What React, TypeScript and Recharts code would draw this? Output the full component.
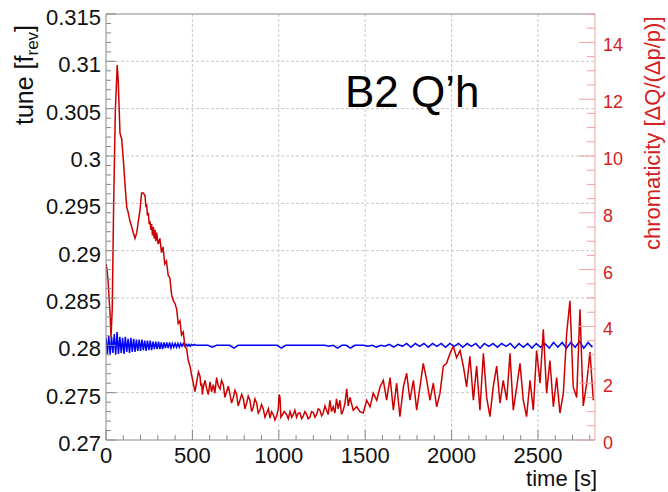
import { LineChart, Line, XAxis, YAxis, CartesianGrid } from "recharts";

// red: chromaticity vs time [s]
const redTime = [
  0, 6, 12, 18, 24, 29, 36, 44, 54, 65, 71, 81, 91, 100, 110, 120, 129, 139, 149, 158,
  168, 178, 187, 197, 206, 216, 226, 231, 235, 240, 245, 250, 255, 260, 264, 269, 274, 279, 284, 288,
  293, 302, 312, 321, 330, 340, 350, 360, 370, 380, 390, 400, 409, 418, 428, 437, 447, 457, 467, 476,
  486, 495, 505, 515, 525, 535, 544, 549, 554, 558, 563, 573, 583, 592, 602, 611, 621, 630, 640, 650,
  660, 669, 679, 688, 698, 708, 718, 727, 737, 746, 756, 765, 775, 785, 795, 804, 814, 823, 833, 843,
  853, 862, 872, 881, 891, 900, 910, 920, 930, 940, 949, 958, 968, 978, 988, 997, 1002, 1007, 1012, 1017,
  1031, 1045, 1055, 1065, 1075, 1084, 1093, 1103, 1113, 1123, 1132, 1142, 1151, 1161, 1170, 1180, 1190, 1200, 1209, 1219,
  1228, 1238, 1248, 1257, 1267, 1277, 1286, 1296, 1305, 1315, 1325, 1334, 1344, 1354, 1363, 1373, 1383, 1393, 1402, 1412,
  1431, 1451, 1470, 1489, 1509, 1528, 1547, 1567, 1586, 1605, 1624, 1644, 1663, 1682, 1701, 1721, 1740, 1759, 1779, 1798,
  1817, 1836, 1856, 1875, 1894, 1914, 1933, 1952, 1971, 1991, 2010, 2029, 2049, 2068, 2087, 2106, 2126, 2145, 2164, 2184,
  2203, 2222, 2241, 2261, 2280, 2299, 2319, 2338, 2357, 2377, 2396, 2415, 2434, 2454, 2473, 2492, 2512, 2531, 2550, 2569,
  2589, 2608, 2627, 2647, 2666, 2685, 2704, 2724, 2743, 2762, 2782, 2801, 2820,
];
const redChroma = [
  6.2, 6.0, 5.6, 5.0, 4.4, 3.6, 4.6, 8.2, 11.6, 13.2, 12.6, 10.8, 10.6, 9.9, 9.0, 8.2, 8.0, 7.7, 7.5, 7.3,
  7.1, 7.3, 7.7, 8.1, 8.7, 8.7, 8.6, 8.2, 8.3, 7.9, 8.0, 7.6, 7.7, 7.4, 7.6, 7.2, 7.5, 7.1, 7.4, 7.0,
  7.3, 6.9, 7.1, 6.6, 6.8, 6.2, 6.3, 5.8, 5.7, 5.1, 4.9, 4.8, 4.6, 4.1, 4.2, 3.7, 3.8, 3.3, 3.2, 2.8,
  2.6, 2.3, 2.0, 1.7, 2.05, 2.4, 2.25, 1.9, 2.0, 1.6, 1.85, 2.1, 1.8, 1.6, 2.05, 1.7, 1.95, 1.65, 2.2, 1.9,
  1.8, 2.1, 1.95, 1.5, 1.7, 1.9, 1.6, 1.3, 1.5, 1.75, 1.6, 1.2, 1.4, 1.6, 1.45, 1.1, 1.3, 1.55, 1.4, 1.0,
  1.17, 1.45, 1.3, 0.95, 1.05, 1.25, 1.1, 0.8, 0.95, 1.1, 0.77, 1.0, 0.9, 0.7, 0.85, 1.1, 1.6, 1.5, 0.8, 0.85,
  1.0, 0.9, 0.75, 1.0, 0.8, 0.9, 1.05, 0.8, 0.95, 0.95, 0.75, 0.85, 1.0, 0.9, 0.75, 0.8, 1.0, 0.97, 0.8, 0.9,
  1.1, 1.05, 0.85, 0.95, 1.2, 1.05, 0.9, 1.4, 1.0, 1.17, 0.95, 1.45, 1.1, 1.4, 0.9, 1.05, 1.3, 1.8, 1.2, 1.5,
  1.05, 1.17, 1.0, 0.95, 1.4, 1.17, 1.65, 1.4, 1.87, 2.1, 1.4, 2.2, 1.05, 2.0, 0.82, 1.87, 2.35, 1.4, 2.1, 1.05,
  1.87, 2.7, 2.1, 1.4, 2.0, 1.17, 1.65, 2.6, 2.7, 3.05, 3.3, 2.9, 3.15, 2.6, 1.87, 2.95, 1.4, 2.6, 1.05, 3.05,
  1.5, 0.82, 1.87, 2.6, 1.3, 2.1, 1.4, 3.05, 1.05, 1.87, 2.7, 1.4, 0.82, 2.1, 1.05, 3.15, 2.0, 3.9, 1.65, 2.8,
  1.17, 2.2, 0.95, 1.65, 3.75, 4.9, 1.87, 1.5, 4.6, 1.2, 2.0, 3.1, 1.4,
];

// blue: tune [f_rev] vs time [s]
const blueTime = [
  0, 8, 16, 24, 32, 40, 48, 56, 64, 72, 80, 88, 96, 104, 112, 120, 128, 136, 144, 152,
  160, 168, 176, 184, 192, 200, 208, 216, 224, 232, 240, 248, 256, 264, 272, 280, 288, 296, 304, 312,
  320, 328, 336, 344, 352, 360, 368, 376, 384, 392, 400, 408, 416, 424, 432, 440, 448, 456, 464, 472,
  480, 488, 496, 504, 512, 520, 540, 565, 590, 615, 640, 665, 690, 715, 740, 765, 790, 815, 840, 865,
  890, 915, 940, 965, 990, 1015, 1040, 1065, 1090, 1115, 1140, 1165, 1190, 1215, 1240, 1265, 1290, 1315, 1340, 1365,
  1390, 1415, 1440, 1465, 1490, 1515, 1540, 1565, 1590, 1615, 1640, 1665, 1690, 1715, 1740, 1765, 1790, 1815, 1840, 1865,
  1890, 1915, 1940, 1965, 1990, 2015, 2040, 2065, 2090, 2115, 2140, 2165, 2190, 2215, 2240, 2265, 2290, 2315, 2340, 2365,
  2390, 2415, 2440, 2465, 2490, 2515, 2540, 2565, 2590, 2615, 2640, 2665, 2690, 2715, 2740, 2765, 2790, 2815,
];
const blueTune = [
  0.2808, 0.2791, 0.281, 0.279, 0.2809, 0.2792, 0.2812, 0.279, 0.2814, 0.2791, 0.2809, 0.2792, 0.2808, 0.2791, 0.2809, 0.2793, 0.2807, 0.2792, 0.2808, 0.2793,
  0.2807, 0.2793, 0.2806, 0.2794, 0.2806, 0.2794, 0.2806, 0.2795, 0.2805, 0.2794, 0.2805, 0.2795, 0.2805, 0.2795, 0.2804, 0.2796, 0.2804, 0.2796, 0.2804, 0.2796,
  0.2803, 0.2796, 0.2803, 0.2797, 0.2803, 0.2797, 0.2803, 0.2797, 0.2802, 0.2798, 0.2802, 0.2798, 0.2802, 0.2798, 0.2802, 0.2799, 0.2802, 0.2799, 0.2801, 0.2799,
  0.2801, 0.2799, 0.2801, 0.28, 0.2801, 0.28, 0.28, 0.28, 0.28, 0.2798, 0.28, 0.28, 0.28, 0.28, 0.2797, 0.28, 0.28, 0.28, 0.28, 0.28,
  0.28, 0.28, 0.28, 0.28, 0.28, 0.2797, 0.28, 0.28, 0.28, 0.28, 0.28, 0.28, 0.28, 0.28, 0.28, 0.28, 0.2799, 0.28, 0.2797, 0.28,
  0.28, 0.2797, 0.28, 0.28, 0.28, 0.2799, 0.28, 0.2798, 0.28, 0.2799, 0.2801, 0.2798, 0.2801, 0.2799, 0.2802, 0.2798, 0.2802, 0.2799, 0.2802, 0.2798,
  0.2802, 0.2799, 0.2802, 0.2798, 0.2802, 0.2799, 0.2802, 0.2798, 0.2802, 0.2799, 0.2802, 0.2797, 0.2802, 0.2799, 0.2802, 0.2798, 0.2802, 0.2799, 0.2802, 0.2797,
  0.2802, 0.2798, 0.2802, 0.2797, 0.2802, 0.2798, 0.2802, 0.2797, 0.2803, 0.2798, 0.2803, 0.2797, 0.2803, 0.2798, 0.2804, 0.2797, 0.2803, 0.2798,
];

const timeLabels = [0, 500, 1000, 1500, 2000, 2500];
const tuneLabels = [0.27, 0.275, 0.28, 0.285, 0.29, 0.295, 0.3, 0.305, 0.31, 0.315];
const chromaLabels = [0, 2, 4, 6, 8, 10, 12, 14];

const redData = redTime.map((t, i) => ({ t, q: redChroma[i] }));
const blueData = blueTime.map((t, i) => ({ t, tune: blueTune[i] }));

// minor tick positions (ROOT style)
const timeTicks = Array.from({ length: 29 }, (_, i) => i * 100);
const tuneTicks = Array.from({ length: 46 }, (_, i) => +(0.27 + i * 0.001).toFixed(3));
const chromaTicks = Array.from({ length: 31 }, (_, i) => i * 0.5);

const font = "'Liberation Sans', Arial, sans-serif";
const isIn = (arr: number[], v: number) => arr.some((m) => Math.abs(m - v) < 1e-7);

function TimeTick({ x, y, payload }: any) {
  const major = isIn(timeLabels, payload.value);
  return (
    <g>
      <line x1={x} x2={x} y1={y} y2={y - (major ? 10 : 5)} stroke="#888" />
      {major && (
        <text x={x} y={y + 23} textAnchor="middle" fontSize={22} fontFamily={font} fill="#111">
          {payload.value}
        </text>
      )}
    </g>
  );
}

function TopTick({ x, y, payload }: any) {
  const major = isIn(timeLabels, payload.value);
  return <line x1={x} x2={x} y1={y} y2={y + (major ? 10 : 5)} stroke="#888" />;
}

function TuneTick({ x, y, payload }: any) {
  const major = isIn(tuneLabels, payload.value);
  return (
    <g>
      <line x1={x} x2={x + (major ? 10 : 5)} y1={y} y2={y} stroke="#888" />
      {major && (
        <text x={x - 5} y={y + 11} textAnchor="end" fontSize={22} fontFamily={font} fill="#111">
          {String(payload.value)}
        </text>
      )}
    </g>
  );
}

function ChromaTick({ x, y, payload }: any) {
  const major = isIn(chromaLabels, payload.value);
  return (
    <g>
      <line x1={x} x2={x - (major ? 16 : 8)} y1={y} y2={y} stroke="#f0a0a0" />
      {major && (
        <text x={x + 8} y={y + 9} textAnchor="start" fontSize={18} fontFamily={font} fill="#d42020">
          {payload.value}
        </text>
      )}
    </g>
  );
}

export default function App() {
  return (
    <div style={{ position: "absolute", left: 0, top: 0, width: 668, height: 492, background: "#fff" }}>
      <LineChart width={668} height={492} margin={{ top: 0, right: 0, bottom: 0, left: 0 }}>
        <CartesianGrid
          yAxisId="left"
          stroke="#c8c8c8"
          strokeDasharray="3 2"
          horizontalValues={tuneLabels.slice(1, -1)}
          verticalValues={timeLabels.slice(1)}
        />
        <XAxis
          dataKey="t"
          type="number"
          domain={[0, 2830]}
          allowDataOverflow
          ticks={timeTicks}
          interval={0}
          height={52}
          tickSize={0}
          tickMargin={0}
          tickLine={false}
          axisLine={{ stroke: "#888" }}
          tick={<TimeTick />}
        />
        <XAxis
          xAxisId="top"
          orientation="top"
          dataKey="t"
          type="number"
          domain={[0, 2830]}
          ticks={timeTicks}
          interval={0}
          height={14}
          tickSize={0}
          tickMargin={0}
          tickLine={false}
          axisLine={{ stroke: "#888" }}
          tick={<TopTick />}
        />
        <YAxis
          yAxisId="left"
          type="number"
          domain={[0.27, 0.315]}
          allowDataOverflow
          ticks={tuneTicks}
          interval={0}
          width={106}
          tickSize={0}
          tickMargin={0}
          tickLine={false}
          axisLine={{ stroke: "#888" }}
          tick={<TuneTick />}
        />
        <YAxis
          yAxisId="right"
          orientation="right"
          type="number"
          domain={[0, 15]}
          allowDataOverflow
          ticks={chromaTicks}
          interval={0}
          width={73}
          tickSize={0}
          tickMargin={0}
          tickLine={false}
          axisLine={{ stroke: "#f0a0a0" }}
          tick={<ChromaTick />}
        />
        <Line
          yAxisId="left"
          data={blueData}
          dataKey="tune"
          type="linear"
          stroke="#0000ff"
          strokeWidth={1.5}
          dot={false}
          isAnimationActive={false}
        />
        <Line
          yAxisId="right"
          data={redData}
          dataKey="q"
          type="linear"
          stroke="#cc0000"
          strokeWidth={1.5}
          dot={false}
          isAnimationActive={false}
        />
      </LineChart>
      <svg
        width={668}
        height={492}
        style={{ position: "absolute", left: 0, top: 0, pointerEvents: "none" }}
        fontFamily={font}
      >
        <text x={345} y={107} fontSize={44} fill="#000">
          B2 Q’h
        </text>
        <text x={33} y={125} fontSize={25} fill="#111" transform="rotate(-90 33 125)">
          tune [f
          <tspan dy={5} fontSize={17}>
            rev
          </tspan>
          <tspan dy={-5}>]</tspan>
        </text>
        <text x={660} y={250} fontSize={22} fill="#d42020" transform="rotate(-90 660 250)">
          chromaticity [ΔQ/(Δp/p)]
        </text>
        <text x={597} y={486} fontSize={22} textAnchor="end" fill="#111">
          time [s]
        </text>
      </svg>
    </div>
  );
}
